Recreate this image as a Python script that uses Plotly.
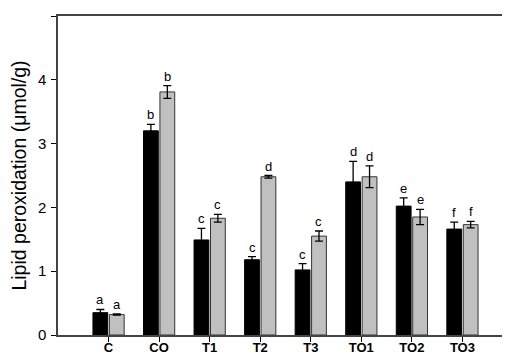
import plotly.graph_objects as go

categories = ["C", "CO", "T1", "T2", "T3", "TO1", "TO2", "TO3"]
black_vals = [0.35, 3.20, 1.49, 1.18, 1.02, 2.40, 2.02, 1.66]
black_err = [0.05, 0.10, 0.18, 0.05, 0.10, 0.32, 0.13, 0.11]
gray_vals = [0.32, 3.81, 1.83, 2.48, 1.55, 2.48, 1.85, 1.73]
gray_err = [0.01, 0.10, 0.06, 0.02, 0.08, 0.17, 0.12, 0.05]
black_letters = ["a", "b", "c", "c", "c", "d", "e", "f"]
gray_letters = ["a", "b", "c", "d", "c", "d", "e", "f"]
y_ticks = [0, 1, 2, 3, 4, 5]

xs = list(range(len(categories)))
bargap = 0.35
offset = (1 - bargap) / 4

fig = go.Figure()
fig.add_trace(go.Bar(
    x=xs, y=black_vals,
    marker=dict(color="#000000", line=dict(color="#000000", width=1)),
    error_y=dict(type="data", array=black_err, color="#000000", thickness=1.3, width=4),
))
fig.add_trace(go.Bar(
    x=xs, y=gray_vals,
    marker=dict(color="#c0c0c0", line=dict(color="#333333", width=1)),
    error_y=dict(type="data", array=gray_err, color="#000000", thickness=1.3, width=4),
))

for i in xs:
    fig.add_annotation(x=i - offset, y=black_vals[i] + black_err[i], text=black_letters[i],
                       showarrow=False, yanchor="bottom", yshift=0,
                       font=dict(family="Arial, Liberation Sans", size=13, color="#000"))
    fig.add_annotation(x=i + offset, y=gray_vals[i] + gray_err[i], text=gray_letters[i],
                       showarrow=False, yanchor="bottom", yshift=0,
                       font=dict(family="Arial, Liberation Sans", size=13, color="#000"))

fig.update_layout(
    width=510, height=356,
    margin=dict(l=50, r=3, t=8, b=29),
    paper_bgcolor="white", plot_bgcolor="white",
    barmode="group", bargap=bargap, bargroupgap=0.1,
    showlegend=False,
    font=dict(family="Arial, Liberation Sans", color="#000"),
)
fig.update_xaxes(
    range=[-1, 8], tickvals=xs, ticktext=["<b>%s</b>" % c for c in categories],
    ticks="outside", ticklen=5, tickcolor="#000", tickwidth=1,
    showline=True, linecolor="#444", linewidth=1.5, mirror=True,
    showgrid=False, zeroline=False, tickfont=dict(size=13),
    ticklabelstandoff=-5,
)
fig.update_yaxes(
    range=[0, 5], tickvals=y_ticks,
    ticks="outside", ticklen=5, tickcolor="#000", tickwidth=1,
    showline=True, linecolor="#444", linewidth=1.5, mirror=True,
    showgrid=False, zeroline=False, tickfont=dict(size=15),
    ticklabelstandoff=2,
    title=dict(text="Lipid peroxidation (μmol/g)", font=dict(size=19.5), standoff=8),
)
fig.write_html("out.html")
